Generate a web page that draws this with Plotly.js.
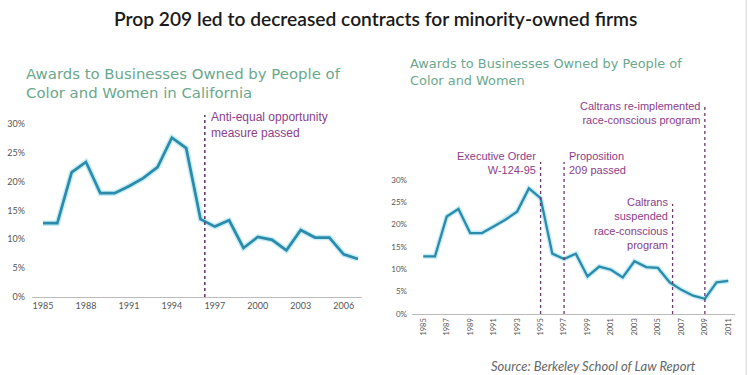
<!DOCTYPE html>
<html>
<head>
<meta charset="utf-8">
<script src="https://cdn.plot.ly/plotly-3.0.1.min.js"></script>
<style>html,body{margin:0;padding:0;background:#fff;} #chart{width:750px;height:375px;}</style>
</head>
<body>
<div id="chart"></div>
<script>
// Left chart: California, 1985-2007
const yearsCA = [1985,1986,1987,1988,1989,1990,1991,1992,1993,1994,1995,1996,1997,1998,1999,2000,2001,2002,2003,2004,2005,2006,2007];
const awardsCA = [12.8,12.8,21.6,23.4,18.0,18.0,19.2,20.6,22.5,27.6,25.8,13.5,12.2,13.3,8.5,10.4,9.9,8.1,11.6,10.3,10.3,7.4,6.6];
// Right chart: 1985-2011
const yearsAll = [1985,1986,1987,1988,1989,1990,1991,1992,1993,1994,1995,1996,1997,1998,1999,2000,2001,2002,2003,2004,2005,2006,2007,2008,2009,2010,2011];
const awardsAll = [12.9,12.9,21.8,23.5,18.1,18.1,19.6,21.1,22.9,28.1,25.9,13.5,12.3,13.5,8.4,10.6,9.9,8.2,11.8,10.5,10.3,7.1,5.4,4.1,3.4,7.1,7.4];

const leftTickVals = [1985,1988,1991,1994,1997,2000,2003,2006];
const rightTickVals = [1985,1987,1989,1991,1993,1995,1997,1999,2001,2003,2005,2007,2009,2011];
const yTickVals = [0,5,10,15,20,25,30];
const yTickText = ['0%','5%','10%','15%','20%','25%','30%'];

// Event markers
const leftEvents = [{x:1996.3, top:31.6}];
const rightEvents = [{x:1995, top:34}, {x:1997, top:34}, {x:2006.25, top:24.6}, {x:2009, top:47}];

const lineColor = '#2c8aaa';
const glowColor = 'rgba(120,215,235,0.45)';
const eventColor = '#6a3a6e';
const annoColor = '#8e3c8a';
const subColor = '#6aa88c';

const traces = [
  {x: yearsCA, y: awardsCA, xaxis:'x', yaxis:'y', mode:'lines', line:{color:glowColor, width:5.5}, hoverinfo:'skip', showlegend:false},
  {x: yearsCA, y: awardsCA, xaxis:'x', yaxis:'y', mode:'lines', line:{color:lineColor, width:2.7}, showlegend:false},
  {x: yearsAll, y: awardsAll, xaxis:'x2', yaxis:'y2', mode:'lines', line:{color:glowColor, width:5}, hoverinfo:'skip', showlegend:false},
  {x: yearsAll, y: awardsAll, xaxis:'x2', yaxis:'y2', mode:'lines', line:{color:lineColor, width:2.3}, showlegend:false}
];

const shapes = [];
leftEvents.forEach(e => shapes.push({type:'line', xref:'x', yref:'y', x0:e.x, x1:e.x, y0:0, y1:e.top, line:{color:eventColor, width:1.6, dash:'dot'}}));
rightEvents.forEach(e => shapes.push({type:'line', xref:'x2', yref:'y2', x0:e.x, x1:e.x, y0:0, y1:e.top, line:{color:eventColor, width:1.3, dash:'dot'}}));
// faint right frame edge
shapes.push({type:'line', xref:'paper', yref:'paper', x0:0.995, x1:0.995, y0:0, y1:1, line:{color:'#e4e4e4', width:1.5}});

const tickFont = {family:'Lato, "Open Sans", sans-serif', size:9, color:'#555'};
const annoFont = {family:'"Liberation Sans", Arial, sans-serif', size:11, color:annoColor};
const annoFontL = {family:'"Liberation Sans", Arial, sans-serif', size:12, color:annoColor};

const annotations = [
  {xref:'paper', yref:'paper', x:0.5, y:0.952, xanchor:'center', yanchor:'middle', showarrow:false,
   text:'Prop 209 led to decreased contracts for minority-owned firms',
   font:{family:'Lato, sans-serif', size:19.2, color:'#1a1a1a', weight:600}},
  {xref:'paper', yref:'paper', x:24/750, y:1-83/375, xanchor:'left', yanchor:'middle', align:'left', showarrow:false,
   text:'Awards to Businesses Owned by People of<br>Color and Women in California',
   font:{family:'"DejaVu Sans", sans-serif', size:14.9, color:subColor}},
  {xref:'paper', yref:'paper', x:408/750, y:1-72/375, xanchor:'left', yanchor:'middle', align:'left', showarrow:false,
   text:'Awards to Businesses Owned by People of<br>Color and Women',
   font:{family:'"DejaVu Sans", sans-serif', size:12.9, color:subColor}},
  {xref:'x', yref:'paper', x:1996.3, xshift:4, y:1-125/375, xanchor:'left', yanchor:'middle', align:'left', showarrow:false,
   text:'Anti-equal opportunity<br>measure passed', font:annoFontL},
  {xref:'x2', yref:'paper', x:1995, xshift:-3, y:1-163/375, xanchor:'right', yanchor:'middle', align:'right', showarrow:false,
   text:'Executive Order<br>W-124-95', font:annoFont},
  {xref:'x2', yref:'paper', x:1997, xshift:3, y:1-163/375, xanchor:'left', yanchor:'middle', align:'left', showarrow:false,
   text:'Proposition<br>209 passed', font:annoFont},
  {xref:'x2', yref:'paper', x:2009, xshift:-3, y:1-113/375, xanchor:'right', yanchor:'middle', align:'right', showarrow:false,
   text:'Caltrans re-implemented<br>race-conscious program', font:annoFont},
  {xref:'x2', yref:'paper', x:2006.25, xshift:-3, y:1-223/375, xanchor:'right', yanchor:'middle', align:'right', showarrow:false,
   text:'Caltrans<br>suspended<br>race-conscious<br>program', font:annoFont},
  {xref:'paper', yref:'paper', x:698/750, y:1-366/375, xanchor:'right', yanchor:'middle', showarrow:false,
   text:'<i>Source: Berkeley School of Law Report</i>',
   font:{family:'Lato, "Open Sans", sans-serif', size:13, color:'#666'}}
];

const layout = {
  width:750, height:375,
  margin:{l:0, r:0, t:0, b:0},
  paper_bgcolor:'#fff', plot_bgcolor:'#fff',
  showlegend:false,
  xaxis:{domain:[32/750, 362/750], range:[1984.23, 2007.28], tickvals:leftTickVals, ticks:'', showgrid:false, zeroline:false,
         showline:true, linecolor:'#bbb', linewidth:1.2, tickfont:tickFont, anchor:'y'},
  yaxis:{domain:[(375-297)/375, (375-297+31.6*5.77)/375], range:[0,31.6], tickvals:yTickVals, ticktext:yTickText, ticks:'',
         showgrid:false, zeroline:false, showline:false, tickfont:tickFont, anchor:'x', ticklabelstandoff:6},
  xaxis2:{domain:[412/750, 735/750], range:[1984.04, 2011.57], tickvals:rightTickVals, tickangle:-90, ticks:'', showgrid:false, zeroline:false,
          showline:true, linecolor:'#bbb', linewidth:1.2, tickfont:{family:'Lato, sans-serif', size:7.5, color:'#555'}, anchor:'y2'},
  yaxis2:{domain:[(375-314)/375, (375-314+47.5*4.47)/375], range:[0,47.5], tickvals:yTickVals, ticktext:yTickText, ticks:'',
          showgrid:false, zeroline:false, showline:false, tickfont:{family:'Lato, sans-serif', size:8, color:'#555'}, anchor:'x2', ticklabelstandoff:4},
  shapes: shapes,
  annotations: annotations
};

Plotly.newPlot('chart', traces, layout, {displayModeBar:false, staticPlot:true});
</script>
</body>
</html>
